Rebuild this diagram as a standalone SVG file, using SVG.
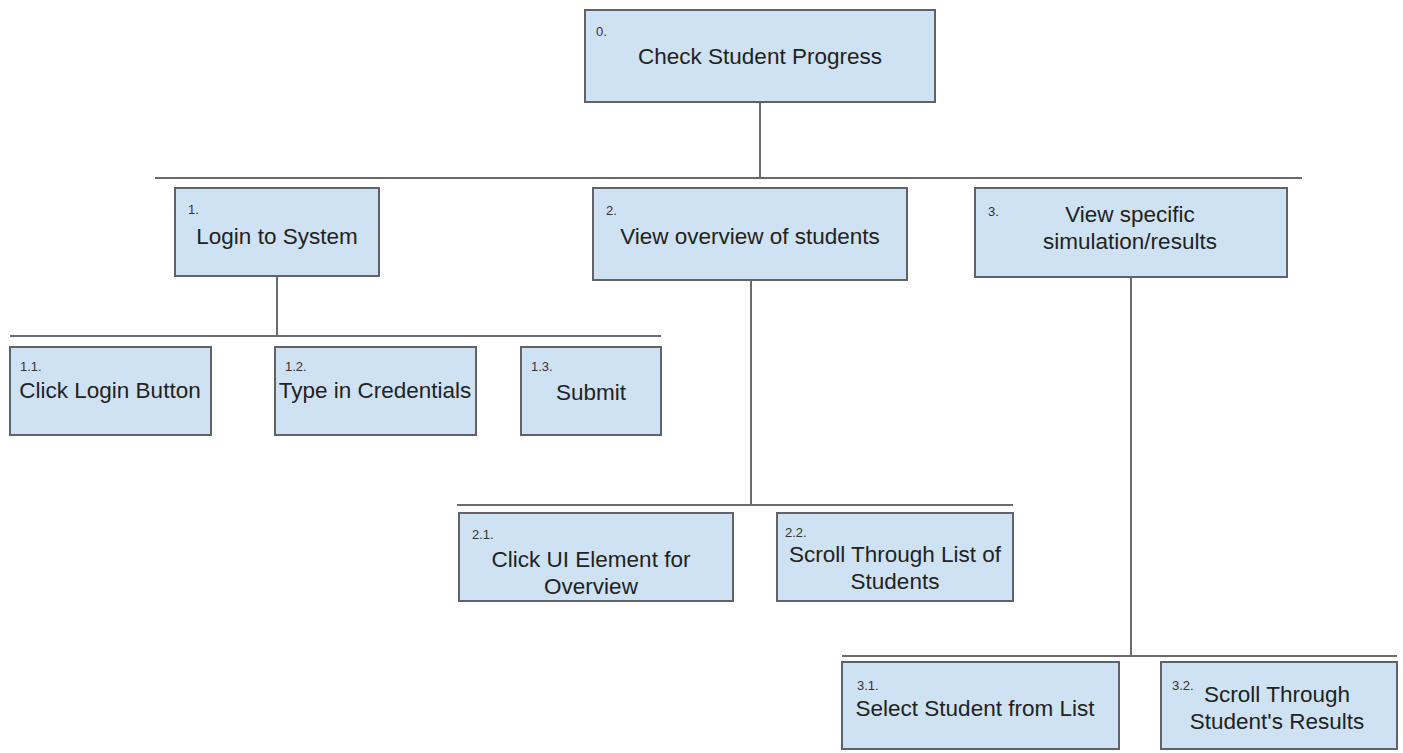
<svg xmlns="http://www.w3.org/2000/svg" width="1403" height="753" viewBox="0 0 1403 753">
<style>
.box{fill:#cfe2f3;stroke:#5f6368;stroke-width:2}
.ln{stroke:#6b6b6b;stroke-width:2;fill:none}
.t{font-family:"Liberation Sans",Arial,sans-serif;font-size:22.5px;fill:#222;text-anchor:middle}
.n{font-family:"Liberation Sans",Arial,sans-serif;font-size:13px;fill:#333}
</style>
<rect width="1403" height="753" fill="#fff"/>
<g id="connectors">
<line class="ln" x1="760" y1="102" x2="760" y2="178"/>
<line class="ln" x1="155" y1="178" x2="1302" y2="178"/>
<line class="ln" x1="277" y1="276" x2="277" y2="336"/>
<line class="ln" x1="10" y1="336" x2="661" y2="336"/>
<line class="ln" x1="751" y1="280" x2="751" y2="505"/>
<line class="ln" x1="457" y1="505" x2="1013" y2="505"/>
<line class="ln" x1="1131" y1="277" x2="1131" y2="656"/>
<line class="ln" x1="842" y1="656" x2="1397" y2="656"/>
</g>
<g id="n0">
<rect class="box" x="585" y="10" width="350" height="92"/>
<text class="n" x="596" y="36">0.</text>
<text class="t" x="760" y="64">Check Student Progress</text>
</g>
<g id="n1">
<rect class="box" x="175" y="188" width="204" height="88"/>
<text class="n" x="188" y="214">1.</text>
<text class="t" x="277" y="244">Login to System</text>
</g>
<g id="n2">
<rect class="box" x="593" y="188" width="314" height="92"/>
<text class="n" x="606" y="215">2.</text>
<text class="t" x="750" y="244">View overview of students</text>
</g>
<g id="n3">
<rect class="box" x="975" y="188" width="312" height="89"/>
<text class="n" x="988" y="216">3.</text>
<text class="t" x="1130" y="222">View specific</text>
<text class="t" x="1130" y="249">simulation/results</text>
</g>
<g id="n1_1">
<rect class="box" x="10" y="347" width="201" height="88"/>
<text class="n" x="20" y="371">1.1.</text>
<text class="t" x="110" y="398">Click Login Button</text>
</g>
<g id="n1_2">
<rect class="box" x="275" y="347" width="201" height="88"/>
<text class="n" x="285" y="371">1.2.</text>
<text class="t" x="375" y="398">Type in Credentials</text>
</g>
<g id="n1_3">
<rect class="box" x="521" y="347" width="140" height="88"/>
<text class="n" x="531" y="371">1.3.</text>
<text class="t" x="591" y="400">Submit</text>
</g>
<g id="n2_1">
<rect class="box" x="459" y="513" width="274" height="88"/>
<text class="n" x="472" y="539">2.1.</text>
<text class="t" x="591" y="567">Click UI Element for</text>
<text class="t" x="591" y="594">Overview</text>
</g>
<g id="n2_2">
<rect class="box" x="777" y="513" width="236" height="88"/>
<text class="n" x="785" y="537">2.2.</text>
<text class="t" x="895" y="562">Scroll Through List of</text>
<text class="t" x="895" y="589">Students</text>
</g>
<g id="n3_1">
<rect class="box" x="842" y="662" width="277" height="87"/>
<text class="n" x="857" y="690">3.1.</text>
<text class="t" x="975" y="716">Select Student from List</text>
</g>
<g id="n3_2">
<rect class="box" x="1161" y="662" width="236" height="87"/>
<text class="n" x="1172" y="690">3.2.</text>
<text class="t" x="1277" y="702">Scroll Through</text>
<text class="t" x="1277" y="729">Student's Results</text>
</g>
</svg>
